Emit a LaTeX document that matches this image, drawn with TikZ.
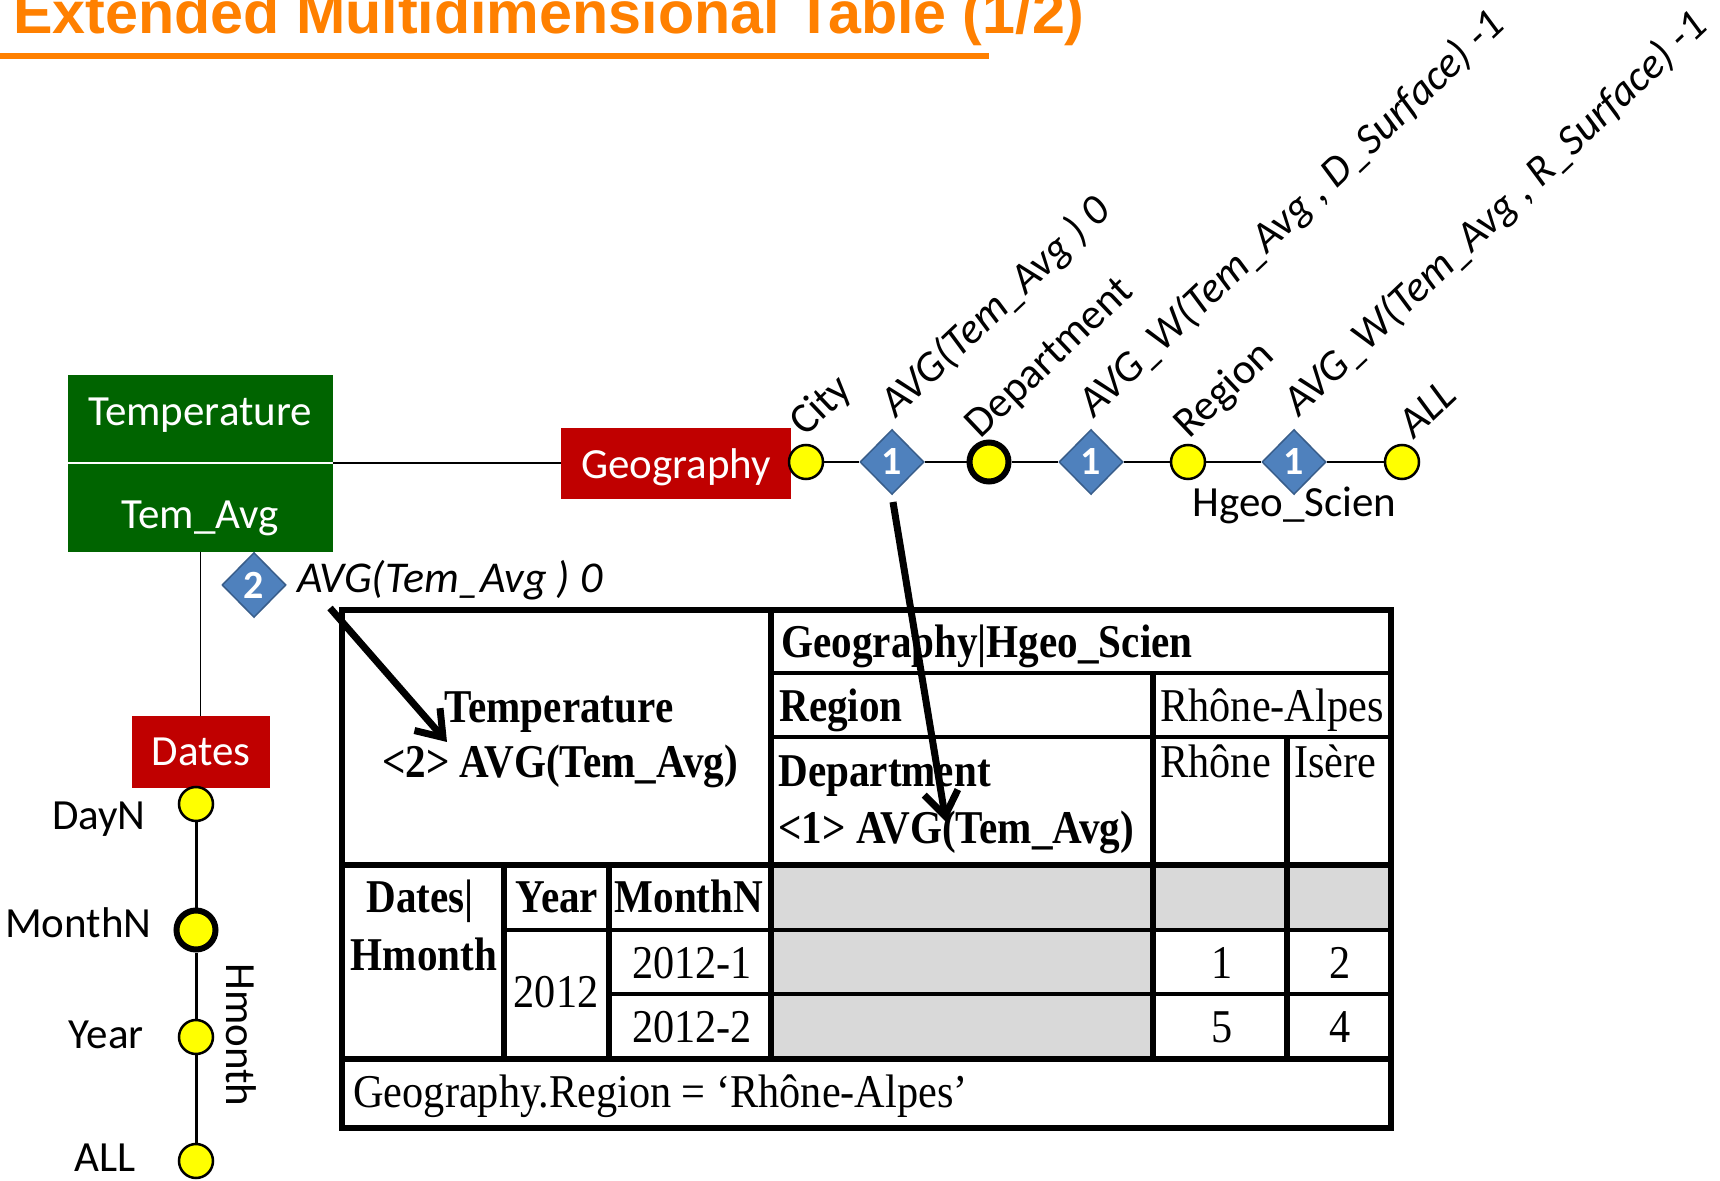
\documentclass[tikz,border=0pt]{standalone}
\usepackage{fontspec}
\usetikzlibrary{shapes.geometric,arrows.meta}
\newfontfamily\calibri{Carlito}
\newfontfamily\serifc[FakeStretch=0.9]{Liberation Serif}
\newfontfamily\serifb[FakeStretch=0.875]{Liberation Serif Bold}
\newfontfamily\titlefont{Liberation Sans}
\definecolor{titleorange}{RGB}{255,128,0}
\definecolor{factgreen}{RGB}{0,100,0}
\definecolor{dimred}{RGB}{192,0,0}
\definecolor{aggblue}{RGB}{79,129,189}
\definecolor{aggborder}{RGB}{56,93,138}
\definecolor{cellgray}{RGB}{217,217,217}
\definecolor{lvlyellow}{RGB}{255,255,0}
\begin{document}
\begin{tikzpicture}[x=0.5pt,y=-0.5pt,
  lbl/.style={inner sep=0pt, font=\calibri\fontsize{21.5}{25}\selectfont},
  ilbl/.style={inner sep=0pt, font=\calibri\itshape\fontsize{22}{26}\selectfont},
  rilbl/.style={inner sep=0pt, font=\calibri\itshape\fontsize{21.5}{25}\selectfont},
  level/.style={circle, draw=black, fill=lvlyellow, line width=1.25pt, minimum size=17pt, inner sep=0pt},
  keylevel/.style={circle, draw=black, fill=lvlyellow, line width=3pt, minimum size=19.5pt, inner sep=0pt},
  agg/.style={diamond, draw=aggborder, fill=aggblue, line width=0.75pt, minimum width=32pt, minimum height=32.5pt, inner sep=0pt, text=white, font=\calibri\bfseries\fontsize{20}{24}\selectfont},
  dimbox/.style={fill=dimred, inner sep=0pt},
  cell/.style={inner sep=0pt, font=\serifc\fontsize{23.5}{27}\selectfont},
  bcell/.style={inner sep=0pt, font=\serifb\fontsize{23.5}{27}\selectfont},
  vrule/.style={line width=2.75pt},
  hrule/.style={line width=1.75pt},
  majorrule/.style={line width=3pt},
  flow/.style={line width=3.5pt, -{Straight Barb[length=12pt,width=17pt]}},
  rotlbl/.style={anchor=base west, rotate=43.5}]

% page
\fill[white] (0,0) rectangle (1720,1181);
\useasboundingbox (0,0) rectangle (1720,1181);

% heading
\node[anchor=base west, inner sep=0pt, text=titleorange,
      font=\titlefont\bfseries\fontsize{29.6}{34}\selectfont] (title) at (13,34)
      {Extended Multidimensional Table (1/2)};
\draw[titleorange, line width=3pt] (0,55.7) -- (989,55.7);

% fact
\node[fill=factgreen, minimum width=132.5pt, minimum height=88.5pt, inner sep=0pt] (fact) at (200.5,463.5) {};
\draw[white, line width=1pt] (fact.west) -- (fact.east);
\node[lbl, text=white, anchor=base] (factname) at (200,426) {Temperature};
\node[lbl, text=white, anchor=base] (measure) at (200,529) {Tem\_Avg};

% dimensions
\node[dimbox, minimum width=115pt, minimum height=35.5pt] (geo) at (676,463.5) {};
\node[lbl, text=white, anchor=base] (geoname) at (676,479) {Geography};
\node[dimbox, minimum width=69pt, minimum height=36pt] (dates) at (201,752) {};
\node[lbl, text=white, anchor=base] (datesname) at (201,766) {Dates};

\draw[line width=1pt] (fact.east) -- (geo.west);
\draw[line width=0.75pt] (fact.south) -- (fact.south |- dates.north);

% geography hierarchy
\node[level] (city) at (806,462) {};
\node[agg] (d1) at (892,462) {1};
\node[keylevel] (dept) at (989,462) {};
\node[agg] (d2) at (1091,462) {1};
\node[level] (region) at (1188,462) {};
\node[agg] (d3) at (1294,462) {1};
\node[level] (gall) at (1402,462) {};
\draw[line width=1pt] (city) -- (d1) -- (dept) -- (d2) -- (region) -- (d3) -- (gall);

\node[lbl, rotlbl] (lcity) at (805,438) {City};
\node[rilbl, rotlbl] (ld1) at (896,419) {AVG(Tem\_Avg ) 0};
\node[lbl, rotlbl] (ldept) at (980,440) {Department};
\node[rilbl, rotlbl] (ld2) at (1094,419) {AVG\_W(Tem\_Avg , D\_Surface) -1};
\node[lbl, rotlbl] (lregion) at (1189,440) {Region};
\node[rilbl, rotlbl] (ld3) at (1299,418) {AVG\_W(Tem\_Avg , R\_Surface) -1};
\node[rilbl, rotlbl] (lgall) at (1414,440) {ALL};
\node[lbl, anchor=base west] (hgeo) at (1192,517) {Hgeo\_Scien};

% dates hierarchy
\node[level] (dayn) at (196,804) {};
\node[keylevel] (monthn) at (196,930) {};
\node[level] (year) at (196,1037) {};
\node[level] (dall) at (196,1161) {};
\draw[line width=1.5pt] (dayn) -- (monthn) -- (year) -- (dall);
\node[lbl, anchor=base east] (ldayn) at (146,829) {DayN};
\node[lbl, anchor=base east] (lmonthn) at (152,937) {MonthN};
\node[lbl, anchor=base east] (lyear) at (144,1048) {Year};
\node[lbl, anchor=base east] (ldall) at (136,1171) {ALL};
\node[lbl, rotate=-90] (hmonth) at (241,1035) {Hmonth};

% measure aggregation
\node[agg] (d0) at (254,585) {2};
\node[ilbl, anchor=base west] (ld0) at (297,593) {AVG(Tem\_Avg ) 0};

% table: shaded cells
\fill[cellgray] (771,865) rectangle (1391,930);
\fill[cellgray] (771,930) rectangle (1153,1059);

% table: rules
\draw[hrule] (771,673) -- (1391,673);
\draw[hrule] (771,737) -- (1391,737);
\draw[hrule] (504,930) -- (1391,930);
\draw[hrule] (609,994) -- (1391,994);
\draw[vrule] (1153,673) -- (1153,1059);
\draw[vrule] (1287,737) -- (1287,1059);
\draw[vrule] (504,865) -- (504,1059);
\draw[vrule] (609,865) -- (609,1059);
\draw[vrule] (771,610) -- (771,1059);
\draw[majorrule] (342,865) -- (1391,865);
\draw[majorrule] (342,1059) -- (1391,1059);
\draw[vrule] (342,610) rectangle (1391,1128);

% table: texts
\node[bcell, anchor=base west] (tgeo) at (781,658) {Geography|Hgeo\_Scien};
\node[bcell, anchor=base west] (tregion) at (779,722) {Region};
\node[cell, anchor=base west] (tra) at (1160,722) {Rhône-Alpes};
\node[bcell, anchor=base] (ttemp) at (559,723) {Temperature};
\node[bcell, anchor=base] (tagg2) at (560,777) {<2> AVG(Tem\_Avg)};
\node[bcell, anchor=base west] (tdept) at (778,787) {Department};
\node[bcell, anchor=base west] (tagg1) at (778,843) {<1> AVG(Tem\_Avg)};
\node[cell, anchor=base west] (trhone) at (1160,778) {Rhône};
\node[cell, anchor=base west] (tisere) at (1294,778) {Isère};
\node[bcell, anchor=base] (tdates) at (420,913) {Dates|};
\node[bcell, anchor=base] (thmonth) at (424,970) {Hmonth};
\node[bcell, anchor=base] (tyear) at (557,913) {Year};
\node[bcell, anchor=base] (tmonthn) at (689,913) {MonthN};
\node[cell, anchor=base] (t2012) at (556,1007) {2012};
\node[cell, anchor=base] (tm1) at (692,978) {2012-1};
\node[cell, anchor=base] (tm2) at (692,1042) {2012-2};
\node[cell, anchor=base] (v11) at (1222,978) {1};
\node[cell, anchor=base] (v12) at (1340,978) {2};
\node[cell, anchor=base] (v21) at (1222,1042) {5};
\node[cell, anchor=base] (v22) at (1340,1042) {4};
\node[cell, anchor=base west] (tsel) at (353,1107) {Geography.Region = ‘Rhône-Alpes’};

% arrows
\coordinate (a1s) at (330,608);
\coordinate (a1e) at (447,742);
\coordinate (a2s) at (893,502);
\coordinate (a2e) at (946,822);
\draw[flow] (a1s) -- (a1e);
\draw[flow] (a2s) -- (a2e);
\end{tikzpicture}
\end{document}
